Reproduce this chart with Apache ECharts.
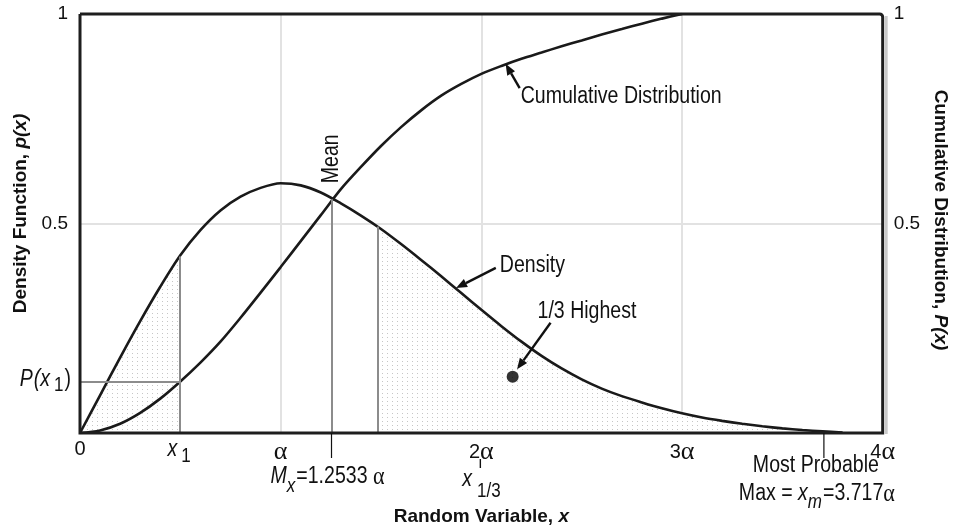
<!DOCTYPE html>
<html>
<head>
<meta charset="utf-8">
<script src="https://cdn.jsdelivr.net/npm/echarts@6/dist/echarts.min.js"></script>
<style>
  html, body { margin: 0; padding: 0; background: #fff; }
  #chart { width: 958px; height: 531px; }
</style>
</head>
<body>
<div id="chart"></div>
<script>
// x is measured in units of the scale parameter α
const xValues = [0, 0.1, 0.2, 0.3, 0.4, 0.5, 0.6, 0.7, 0.8, 0.9, 1.0, 1.1, 1.2, 1.3, 1.4, 1.5, 1.6, 1.7, 1.8, 1.9,
  2.0, 2.1, 2.2, 2.3, 2.4, 2.5, 2.6, 2.7, 2.8, 2.9, 3.0, 3.1, 3.2, 3.3, 3.4, 3.5, 3.6, 3.7, 3.8];
const densityValues = [0, 0.09, 0.18, 0.267, 0.349, 0.424, 0.484, 0.531, 0.564, 0.585, 0.596, 0.591, 0.574, 0.548, 0.519, 0.487,
  0.451, 0.413, 0.374, 0.334, 0.294, 0.255, 0.218, 0.184, 0.154, 0.128, 0.106, 0.088, 0.073, 0.059, 0.047,
  0.037, 0.029, 0.022, 0.016, 0.011, 0.007, 0.004, 0.001];
const cumulativeX = [0, 0.1, 0.2, 0.3, 0.4, 0.5, 0.6, 0.7, 0.8, 0.9, 1.0, 1.1, 1.2, 1.3, 1.4, 1.5, 1.6, 1.7, 1.8, 1.9,
  2.0, 2.1, 2.2, 2.3, 2.4, 2.5, 2.6, 2.7, 2.8, 2.9, 3.0];
const cumulativeValues = [0, 0.006, 0.022, 0.048, 0.082, 0.123, 0.168, 0.218, 0.275, 0.335, 0.396, 0.458, 0.52, 0.582, 0.635, 0.685,
  0.73, 0.77, 0.805, 0.833, 0.857, 0.876, 0.893, 0.908, 0.923, 0.937, 0.951, 0.964, 0.977, 0.989, 1.0];

const xTickLabels = ['0', 'α', '2α', '3α', '4α'];
const yTickLabels = ['', '0.5', '1'];

// marked points on the curves
const x1 = 0.496, densityAtX1 = 0.421, cumulativeAtX1 = 0.122;
const xThird = 1.482, densityAtXThird = 0.493;
const meanX = 1.2533, valueAtMean = 0.558;
const mostProbableMax = 3.717;
const highestThirdMarker = [[2.156, 0.134]];

const SANS = '"Liberation Sans", Arial, sans-serif';
const GREEK = '"Liberation Serif", "DejaVu Serif", serif';
const INK = '#111';
const CURVE = '#1a1a1a';
const SX = 0.85; // horizontal squeeze for the condensed annotation lettering

function dotPattern() {
  const c = document.createElement('canvas');
  c.width = 5; c.height = 4;
  const g = c.getContext('2d');
  g.fillStyle = '#ffffff'; g.fillRect(0, 0, 5, 4);
  g.fillStyle = '#c6c6c6'; g.fillRect(2, 1, 1, 1);
  return c;
}

const densityPoints = xValues.map((x, i) => [x, densityValues[i]]);
const cumulativePoints = cumulativeX.map((x, i) => [x, cumulativeValues[i]]);
const shadeLow = densityPoints.filter(p => p[0] < x1).concat([[x1, densityAtX1]]);
const shadeHigh = [[xThird, densityAtXThird]].concat(densityPoints.filter(p => p[0] > xThird));

const chart = echarts.init(document.getElementById('chart'), null, { renderer: 'canvas' });

const shadeStyle = { color: { image: dotPattern(), repeat: 'repeat' }, opacity: 1 };
const italicRich = { i: { fontFamily: SANS, fontWeight: 'bold', fontStyle: 'italic', fontSize: 19, color: INK } };

const option = {
  animation: false,
  backgroundColor: '#fff',
  grid: { left: 80, top: 14, right: 71, bottom: 98, show: false },
  xAxis: {
    type: 'value', min: 0, max: 4, interval: 1,
    name: 'Random Variable, {i|x}', nameLocation: 'middle', nameGap: 74,
    nameTextStyle: { fontFamily: SANS, fontWeight: 'bold', fontSize: 19, color: INK, rich: italicRich },
    axisLine: { show: false }, axisTick: { show: false },
    axisLabel: {
      margin: 6, fontFamily: SANS, fontSize: 20, color: INK,
      formatter: v => {
        const t = xTickLabels[Math.round(v)] || '';
        return t.replace('α', '{a|α}');
      },
      rich: { a: { fontFamily: GREEK, fontSize: 26, color: INK } }
    },
    splitLine: { show: true, showMinLine: false, showMaxLine: false, lineStyle: { color: '#e2e2e2', width: 2 } }
  },
  yAxis: [
    {
      type: 'value', min: 0, max: 1, interval: 0.5, position: 'left',
      name: 'Density Function, {i|p(x)}', nameLocation: 'middle', nameGap: 50,
      nameTextStyle: { fontFamily: SANS, fontWeight: 'bold', fontSize: 19, color: INK, padding: [0, 0, 0, 20], rich: italicRich },
      axisLine: { show: false }, axisTick: { show: false },
      axisLabel: {
        margin: 12, fontFamily: SANS, fontSize: 19, color: INK,
        formatter: v => yTickLabels[Math.round(v * 2)]
      },
      splitLine: { show: true, showMinLine: false, showMaxLine: false, lineStyle: { color: '#e2e2e2', width: 2 } }
    },
    {
      type: 'value', min: 0, max: 1, interval: 0.5, position: 'right',
      name: 'Cumulative Distribution, {i|P(x)}', nameLocation: 'middle', nameGap: 46, nameRotate: -90,
      nameTextStyle: { fontFamily: SANS, fontWeight: 'bold', fontSize: 19, color: INK, padding: [0, 7, 0, 0], rich: italicRich },
      axisLine: { show: false }, axisTick: { show: false },
      axisLabel: {
        margin: 11, fontFamily: SANS, fontSize: 19, color: INK,
        formatter: v => yTickLabels[Math.round(v * 2)]
      },
      splitLine: { show: false }
    }
  ],
  series: [
    {
      name: 'shade-low', type: 'line', data: shadeLow, smooth: 0.3, symbol: 'none', silent: true,
      lineStyle: { width: 0, opacity: 0 }, areaStyle: shadeStyle, z: 1
    },
    {
      name: 'shade-high', type: 'line', data: shadeHigh, smooth: 0.3, symbol: 'none', silent: true,
      lineStyle: { width: 0, opacity: 0 }, areaStyle: shadeStyle, z: 1
    },
    {
      name: 'Density', type: 'line', data: densityPoints, smooth: 0.3, symbol: 'none',
      lineStyle: { color: CURVE, width: 2.6 }, z: 4,
      markLine: {
        silent: true, symbol: 'none', label: { show: false },
        lineStyle: { color: '#8c8c8c', width: 2, type: 'solid' },
        data: [
          [{ coord: [x1, 0] }, { coord: [x1, densityAtX1] }],
          [{ coord: [0, cumulativeAtX1] }, { coord: [x1, cumulativeAtX1] }],
          [{ coord: [meanX, 0] }, { coord: [meanX, valueAtMean] }],
          [{ coord: [xThird, 0] }, { coord: [xThird, densityAtXThird] }]
        ]
      }
    },
    {
      name: 'Cumulative Distribution', type: 'line', yAxisIndex: 1, data: cumulativePoints, smooth: 0.3, symbol: 'none',
      lineStyle: { color: CURVE, width: 2.6 }, z: 4
    },
    {
      name: '1/3 Highest', type: 'scatter', data: highestThirdMarker, symbol: 'circle', symbolSize: 12,
      itemStyle: { color: '#000' }, z: 6
    }
  ]
};

chart.setOption(option);

// annotations placed through the chart's own coordinate system
const P = (x, y) => chart.convertToPixel({ xAxisIndex: 0, yAxisIndex: 0 }, [x, y]);
const mctx = document.createElement('canvas').getContext('2d');
function measure(text, font) { mctx.font = font; return mctx.measureText(text).width * SX; }
function txt(text, x, y, font, align, rotation) {
  return {
    type: 'text', silent: true, z: 20, x, y, scaleX: SX, rotation: rotation || 0,
    style: { text, x: 0, y: 0, font, fill: INK, align: align || 'left', verticalAlign: 'middle',
             textAlign: align || 'left', textVerticalAlign: 'middle' }
  };
}
// a row of text runs: [text, font, dy, gapBefore]
function runs(x, y, parts, align) {
  const total = parts.reduce((s, p) => s + measure(p[0], p[1]) + (p[3] || 0), 0);
  let cx = align === 'center' ? x - total / 2 : (align === 'right' ? x - total : x);
  return parts.map(p => {
    cx += (p[3] || 0);
    const el = txt(p[0], cx, y + (p[2] || 0), p[1], 'left');
    cx += measure(p[0], p[1]);
    return el;
  });
}
function seg(a, b, w, color) {
  return { type: 'line', silent: true, z: 20, shape: { x1: a[0], y1: a[1], x2: b[0], y2: b[1] },
           style: { stroke: color || INK, lineWidth: w || 1.2 } };
}
function arrow(from, to) {
  const dx = to[0] - from[0], dy = to[1] - from[1];
  const len = Math.hypot(dx, dy), ux = dx / len, uy = dy / len;
  const hl = 11, hw = 4.5;
  const bx = to[0] - ux * hl, by = to[1] - uy * hl;
  return [
    seg(from, [bx, by], 2.4),
    { type: 'polygon', silent: true, z: 20,
      shape: { points: [[to[0], to[1]], [bx - uy * hw, by + ux * hw], [bx + uy * hw, by - ux * hw]] },
      style: { fill: INK } }
  ];
}

const F = '23px ' + SANS;
const FI = 'italic 23px ' + SANS;
const FS = '20px ' + SANS;
const FSI = 'italic 20px ' + SANS;
const FA = '26px ' + GREEK;

const topLeft = P(0, 1), bottomRight = P(4, 0);
const base = bottomRight[1];
const pX1 = P(x1, 0), pMean = P(meanX, 0), pMax = P(mostProbableMax, 0), pTwo = P(2, 0);
const pCum = P(0, cumulativeAtX1);

const g = [];
// plot frame with a soft edge on the right
g.push(seg([bottomRight[0] + 3.5, topLeft[1] + 2], [bottomRight[0] + 3.5, base + 1], 3, '#c9c9c9'));
g.push({
  type: 'rect', silent: true, z: 18,
  shape: { x: topLeft[0], y: topLeft[1], width: bottomRight[0] - topLeft[0], height: base - topLeft[1], r: [0, 3, 0, 0] },
  style: { fill: null, stroke: '#1e1e1e', lineWidth: 3 }
});
// x1 label under the axis
g.push(...runs(pX1[0] - 12, base + 17, [['x', FI, 0], ['1', FS, 6, 4]], 'left'));
// P(x1) label left of the axis
g.push(...runs(pCum[0] - 9, pCum[1] - 2, [['P', FI, 0], ['(x', FI, 0, 1], ['1', FS, 6, 4], [')', F, 0, 1]], 'right'));
// mean marker and value
g.push(seg([pMean[0], base], [pMean[0], base + 25], 1.2));
g.push(...runs(pMean[0] - 61, base + 44, [['M', FI, 0], ['x', FSI, 9, 0], ['=1.2533 ', F, 0, 1], ['α', FA, 0]], 'left'));
const meanTop = P(meanX, valueAtMean + 0.038);
g.push(txt('Mean', meanTop[0], meanTop[1], F, 'left', Math.PI / 2));
// x 1/3 label
g.push(seg([pTwo[0] - 1, base + 26], [pTwo[0] - 1, base + 35], 1.4));
g.push(...runs(pTwo[0] - 19, base + 47, [['x', FI, 0], ['1/3', FS, 11, 5]], 'left'));
// most probable maximum
g.push(seg([pMax[0] - 2, base], [pMax[0] - 2, base + 25], 1.2));
g.push(txt('Most Probable', pMax[0] - 10, base + 33, F, 'center'));
g.push(...runs(pMax[0] - 9, base + 61, [['Max = ', F, 0], ['x', FI, 0], ['m', FSI, 8], ['=3.717', F, 0, 1], ['α', FA, 0]], 'center'));

// callouts
const cTxt = P(2.196, 0.802);
g.push(txt('Cumulative Distribution', cTxt[0], cTxt[1], F, 'left'));
g.push(...arrow(P(2.191, 0.823), P(2.121, 0.881)));
const dTxt = P(2.092, 0.399);
g.push(txt('Density', dTxt[0], dTxt[1], F, 'left'));
g.push(...arrow(P(2.072, 0.394), P(1.874, 0.346)));
const hTxt = P(2.280, 0.289);
g.push(txt('1/3 Highest', hTxt[0], hTxt[1], F, 'left'));
g.push(...arrow(P(2.345, 0.263), P(2.178, 0.152)));

chart.setOption({ graphic: { elements: g } });
</script>
</body>
</html>
